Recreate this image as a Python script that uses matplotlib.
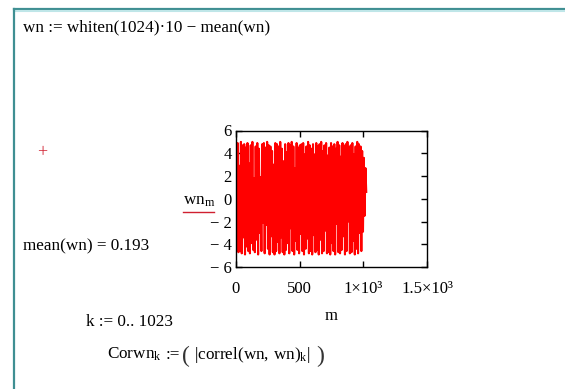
import matplotlib
matplotlib.use("Agg")
import matplotlib.pyplot as plt
import numpy as np

plt.rcParams["font.family"] = ["Liberation Serif", "DejaVu Serif"]
plt.rcParams["mathtext.fontset"] = "custom"
plt.rcParams["mathtext.rm"] = "Liberation Serif"
plt.rcParams["mathtext.it"] = "Liberation Serif"

# wn_m values (white noise, read roughly off the trace envelope)
wn = [
    4.6, -3.2, 4.9, -4.7, 2.9, -4.6, 5.0, -4.8, 4.7, -3.4,
    4.8, -4.9, 4.5, -4.2, 4.9, -4.6, 3.1, -4.8, 4.7, -3.9,
    5.0, -4.5, 1.8, -4.7, 4.6, -3.6, 4.9, -4.9, 4.4, -3.0,
    1.9, -4.6, 4.8, -2.1, 4.9, -4.8, 4.5, -2.3, 5.0, -4.4,
    4.7, -4.9, 4.6, -3.3, 4.2, -4.7, 3.0, -4.9, 4.9, -4.6,
    4.8, -3.8, 4.6, -4.8, 5.0, -3.4, 4.4, -4.7, 3.3, -4.9,
    4.8, -4.5, 4.1, -3.9, 4.9, -4.8, 4.7, -2.6, 5.0, -4.6,
    4.6, -4.9, 2.7, -3.7, 4.9, -4.5, 4.5, -4.8, 4.7, -3.1,
    4.8, -4.6, 4.9, -4.9, 3.9, -4.4, 4.6, -3.5, 5.0, -4.8,
    4.7, -4.6, 4.4, -4.9, 4.8, -3.2, 3.9, -4.7, 4.9, -4.5,
    4.6, -4.9, 4.8, -3.6, 5.0, -4.8, 4.2, -4.6, 4.7, -2.8,
    4.9, -4.8, 3.8, -4.7, 4.5, -4.9, 4.9, -3.9, 4.6, -4.6,
    4.8, -4.9, 4.4, -2.2, 5.0, -4.7, 4.7, -4.8, 3.7, -4.5,
    4.9, -3.3, 4.6, -4.9, 4.8, -4.6, 5.0, -2.0, 4.5, -4.8,
    4.7, -4.7, 4.9, -3.7, 3.9, -4.9, 4.6, -4.4, 5.0, -4.8,
    4.8, -3.0, 4.6, -4.6, 4.2, -2.9, 3.6, -1.5, 2.7, 0.6,
]
m = np.linspace(0, 1023, len(wn))

xticks = [0, 500, 1000, 1500]
xticklabels = ["0", "500", "1\u00d710\u00b3", "1.5\u00d710\u00b3"]
yticks = [-6, -4, -2, 0, 2, 4, 6]
yticklabels = ["\u2212 6", "\u2212 4", "\u2212 2", "0", "2", "4", "6"]

W, H = 565, 389
fig = plt.figure(figsize=(W / 100, H / 100), dpi=100)
fig.patch.set_facecolor("white")


def fx(px):
    return px / W


def fy(py):
    return 1 - py / H


# worksheet border (teal lines top and left)
teal = "#3f8f92"
fig.add_artist(plt.Line2D([fx(14), 1], [fy(9), fy(9)], color=teal, lw=1.6))
fig.add_artist(plt.Line2D([fx(14), 1], [fy(11), fy(11)], color="#bfe6e8", lw=1.5))
fig.add_artist(plt.Line2D([fx(14), fx(14)], [fy(9), 0], color=teal, lw=1.6))

ax = fig.add_axes([fx(236), fy(267), fx(427) - fx(236), fy(130.5) - fy(267)])
ax.plot(m, wn, color="#ff0000", lw=1.5)
ax.set_xlim(0, 1500)
ax.set_ylim(-6, 6)
ax.set_xticks(xticks)
ax.set_xticklabels(xticklabels)
ax.set_yticks(yticks)
ax.set_yticklabels(yticklabels)
ax.tick_params(direction="in", length=4, width=1, top=True, right=True,
               labelsize=12, colors="black")
ax.tick_params(axis="x", pad=10)
ax.tick_params(axis="y", pad=3)
for sp in ax.spines.values():
    sp.set_linewidth(1.0)
ax.set_xlabel("m", fontsize=12, labelpad=8)

fs = 12.3
fig.text(fx(23), fy(27), "wn := whiten(1024)\u00b710 \u2212 mean(wn)", fontsize=fs,
         va="center", ha="left")
fig.text(fx(42), fy(153), "+", color="#d02030", fontsize=13, va="center", ha="center")
fig.text(fx(23), fy(246), "mean(wn) = 0.193", fontsize=fs, va="center", ha="left")
fig.text(fx(86), fy(322), "k := 0.. 1023", fontsize=fs, va="center", ha="left")

# Corwn line, pieced together so the outer brackets can be taller
base = 359
fig.text(fx(107), fy(base), r"$\mathrm{Corwn}_{\mathrm{k}}$",
         fontsize=fs, va="baseline", ha="left")
fig.text(fx(166), fy(base), ":=", fontsize=fs, va="baseline", ha="left")
fig.text(fx(182), fy(base + 3), "(", fontsize=17, va="baseline", ha="left",
         color="#333333")
fig.text(fx(194), fy(base), r"$\left|\mathrm{correl(wn,\,wn)}_{\mathrm{k}}\right|$",
         fontsize=fs, va="baseline", ha="left")
fig.text(fx(316), fy(base + 3), ")", fontsize=17, va="baseline", ha="left",
         color="#333333")

fig.text(fx(183), fy(201), r"$\mathrm{wn}_{\mathrm{m}}$", fontsize=fs, va="center", ha="left")
fig.add_artist(plt.Line2D([fx(183), fx(214)], [fy(212), fy(212)], color="#d02030", lw=1.0))

fig.savefig("out.png", dpi=100, facecolor="white")
